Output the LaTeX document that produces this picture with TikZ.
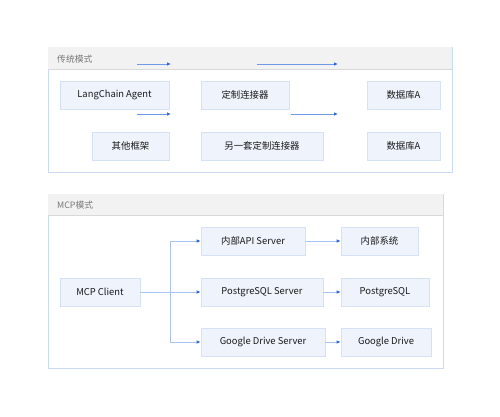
\documentclass[tikz,border=0pt]{standalone}
\usepackage{fontspec}
\setmainfont{Noto Sans CJK SC}
\usetikzlibrary{arrows.meta}
\definecolor{boxfill}{HTML}{EEF3FC}
\definecolor{boxline}{HTML}{D5E1F5}
\definecolor{panelline}{HTML}{CBDAF3}
\definecolor{headfill}{HTML}{F2F2F2}
\definecolor{headline}{HTML}{D9D9D9}
\definecolor{arrowline}{HTML}{6F98E8}
\definecolor{conline}{HTML}{A9C3F2}
\definecolor{tipcol}{HTML}{2F68DE}
\definecolor{txt}{HTML}{1A1A1A}
\definecolor{titletxt}{HTML}{777777}
\begin{document}
\begin{tikzpicture}[x=1pt,y=-1pt,
  boxnode/.style={draw=boxline,fill=boxfill,line width=0.6pt,inner sep=0pt,font=\fontsize{9.4}{11}\selectfont,text=txt},
  flow/.style={draw=arrowline,line width=0.8pt,-{Latex[length=4pt,width=3.5pt,color=tipcol]}},
  conn/.style={draw=conline,line width=1pt,-{Latex[length=4pt,width=3.5pt,color=tipcol]}},
  paneltitle/.style={anchor=west,font=\fontsize{8.8}{10}\selectfont,text=titletxt,inner sep=0pt}]
\useasboundingbox (0,0) rectangle (500,417);
% top panel
\path[draw=panelline,line width=0.7pt,fill=white] (48,47) rectangle (452,172);
\path[fill=headfill] (48.4,47.4) rectangle (451.6,69);
\draw[headline,line width=0.6pt] (48.4,69) -- (451.6,69);
\node[paneltitle] (t1) at (57,59) {传统模式};
% top boxes
\newcommand{\bx}[6]{\node[boxnode,minimum width=#4-#2,minimum height=#5-#3] (#1) at ({(#2+#4)/2},{(#3+#5)/2}) {#6};}
\bx{lc}{60}{81}{169}{109}{LangChain Agent}
\bx{dz}{201}{81}{289}{109}{定制连接器}
\bx{dba}{367}{81}{440}{109}{数据库A}
\bx{qt}{92}{132}{169}{160}{其他框架}
\bx{lyt}{201}{132}{323}{160}{另一套定制连接器}
\bx{dbb}{367}{132}{440}{160}{数据库A}
% free arrows
\coordinate (a1s) at (137,64); \coordinate (a1e) at (171,64);
\coordinate (a2s) at (257,64); \coordinate (a2e) at (338,64);
\coordinate (a3s) at (137,114); \coordinate (a3e) at (171,114);
\coordinate (a4s) at (291,114); \coordinate (a4e) at (338,114);
\draw[flow] (a1s) -- (a1e);
\draw[flow] (a2s) -- (a2e);
\draw[flow] (a3s) -- (a3e);
\draw[flow] (a4s) -- (a4e);
% bottom panel
\path[draw=panelline,line width=0.7pt,fill=white] (48,194) rectangle (443,368);
\path[fill=headfill] (48.4,194.4) rectangle (442.6,215);
\draw[headline,line width=0.6pt] (48.4,215) -- (442.6,215);
\node[paneltitle] (t2) at (57,205) {MCP模式};
\bx{mcp}{60}{278}{140}{306}{MCP Client}
\bx{api}{201}{227}{305}{255}{内部API Server}
\bx{nbs}{341}{227}{418}{255}{内部系统}
\bx{pgs}{201}{278}{323}{306}{PostgreSQL Server}
\bx{pg}{341}{278}{429}{306}{PostgreSQL}
\bx{gds}{201}{328}{325}{356}{Google Drive Server}
\bx{gd}{341}{328}{431}{356}{Google Drive}
\coordinate (j) at (170,292);
\draw[conline,line width=1pt] (mcp.east) -- (j);
\draw[conn] (j) |- (api.west);
\draw[conn] (j) -- (pgs.west);
\draw[conn] (j) |- (gds.west);
\draw[conn] (api) -- (nbs);
\draw[conn] (pgs) -- (pg);
\draw[conn] (gds) -- (gd);
\end{tikzpicture}
\end{document}
